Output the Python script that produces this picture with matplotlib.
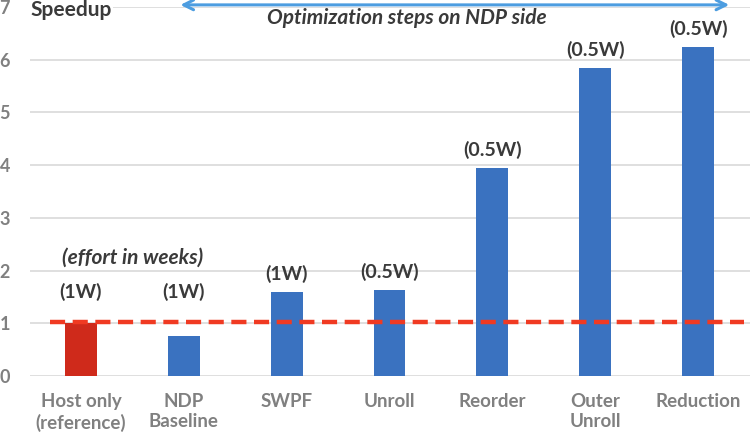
import matplotlib.pyplot as plt

# ---- data ----
categories = ["Host only\n(reference)", "NDP\nBaseline", "SWPF", "Unroll",
              "Reorder", "Outer\nUnroll", "Reduction"]
speedup = [1.0, 0.76, 1.6, 1.63, 3.95, 5.84, 6.24]
effort = ["(1W)", "(1W)", "(1W)", "(0.5W)", "(0.5W)", "(0.5W)", "(0.5W)"]
bar_colors = ["#cf2a1b"] + ["#3a72c0"] * 6
ref_line = 1.03
yticks = [0, 1, 2, 3, 4, 5, 6, 7]

plt.rcParams["font.family"] = ["Lato", "DejaVu Sans"]

fig = plt.figure(figsize=(7.51, 4.47), dpi=100)
ax = fig.add_axes([29.5 / 751, 71 / 447, 720 / 751, 369 / 447])

x = range(len(categories))
ax.bar(x, speedup, width=0.31, color=bar_colors, zorder=3)

ax.set_xlim(-0.5, len(categories) - 0.5)
ax.set_ylim(0, 7)
ax.set_yticks(yticks)
ax.yaxis.grid(True, color="#d9d9d9", linewidth=1.2, zorder=0)
for s in ax.spines.values():
    s.set_visible(False)

ax.set_xticks(list(x))
ax.set_xticklabels(categories, fontsize=13.5, fontweight="bold", color="#808080",
                   linespacing=1.25)
ax.tick_params(axis="x", length=0, pad=12)
ax.tick_params(axis="y", length=0, pad=14, labelsize=13, labelcolor="#808080")
for t in ax.get_yticklabels():
    t.set_fontweight("bold")

# reference dashed line
ax.plot([-0.3, 6.45], [ref_line, ref_line], color="#f03a22", linewidth=3.2,
        linestyle=(0, (3.4, 1.7)), zorder=4)

# effort labels
for i, (v, lab) in enumerate(zip(speedup, effort)):
    base = max(v, ref_line)
    off = 13 if v > ref_line else 21.5
    ax.annotate(lab, (i, base), xytext=(0, off), textcoords="offset points",
                ha="center", va="center", fontsize=14, fontweight="bold",
                color="#3a3a3a")

ax.text(0.5, 2.24, "(effort in weeks)", ha="center", va="center", fontsize=15,
        fontweight="bold", fontstyle="italic", color="#3a3a3a")

# speedup title
ax.text(-0.49, 6.94, "Speedup", ha="left", va="center", fontsize=15,
        fontweight="bold", color="#3a3a3a", zorder=5,
        bbox=dict(facecolor="white", edgecolor="none", pad=1))

# optimization arrow
ax.annotate("", xy=(6.33, 7.04), xytext=(0.94, 7.04),
            arrowprops=dict(arrowstyle="<->,head_length=0.7,head_width=0.35",
                            color="#4d9de0", linewidth=2.2),
            annotation_clip=False, zorder=5)
ax.text(3.17, 6.8, "Optimization steps on NDP side", ha="center", va="center",
        fontsize=15, fontweight="bold", fontstyle="italic", color="#3a3a3a")

fig.savefig("out.png", dpi=100)
